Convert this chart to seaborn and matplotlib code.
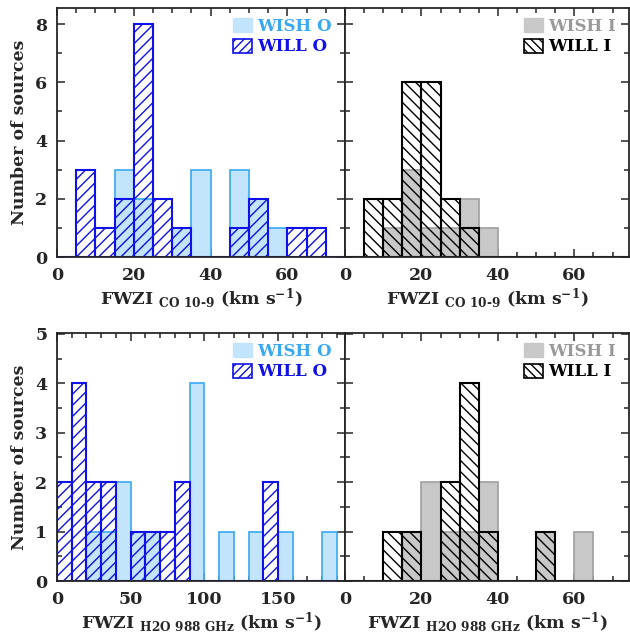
import numpy as np
import pandas as pd
import seaborn as sns
import matplotlib.pyplot as plt
from matplotlib.patches import Patch
from matplotlib.ticker import MultipleLocator

sns.set_style("ticks")
plt.rcParams['font.family'] = ['DejaVu Serif']
plt.rcParams['font.weight'] = 'bold'
plt.rcParams['axes.labelweight'] = 'bold'
plt.rcParams['mathtext.fontset'] = 'custom'
plt.rcParams['mathtext.rm'] = 'DejaVu Serif:bold'
plt.rcParams['mathtext.it'] = 'DejaVu Serif:bold'
plt.rcParams['hatch.linewidth'] = 1.0

# bin left edges (km/s)
co_bins = [0, 5, 10, 15, 20, 25, 30, 35, 40, 45, 50, 55, 60, 65, 70]
h2o_o_bins = [0, 10, 20, 30, 40, 50, 60, 70, 80, 90, 100, 110, 120, 130, 140, 150, 160, 170, 180]
h2o_i_bins = co_bins

# counts per bin
wish_o_co = [0, 0, 0, 3, 2, 0, 1, 3, 0, 3, 2, 1, 0, 0, 0]
will_o_co = [0, 3, 1, 2, 8, 2, 1, 0, 0, 1, 2, 0, 1, 1, 0]
wish_i_co = [0, 0, 1, 3, 1, 1, 2, 1, 0, 0, 0, 0, 0, 0, 0]
will_i_co = [0, 2, 2, 6, 6, 2, 1, 0, 0, 0, 0, 0, 0, 0, 0]

wish_o_h2o = [0, 0, 1, 1, 2, 1, 1, 0, 0, 4, 0, 1, 0, 1, 0, 1, 0, 0, 1]
will_o_h2o = [2, 4, 2, 2, 0, 1, 1, 1, 2, 0, 0, 0, 0, 0, 2, 0, 0, 0, 0]
wish_i_h2o = [0, 0, 0, 1, 2, 1, 1, 2, 0, 0, 1, 0, 1, 0, 0]
will_i_h2o = [0, 0, 1, 1, 0, 2, 4, 1, 0, 0, 1, 0, 0, 0, 0]

BLUE_LT = '#c2e5fb'
BLUE_EDGE = '#38a8f0'
BLUE = '#1010e8'
GREY = '#c8c8c8'
GREY_EDGE = '#a0a0a0'

fig = plt.figure(figsize=(6.3, 6.38), dpi=100)
W, H = 630, 638


def add_ax(x0, y0, x1, y1):
    return fig.add_axes([x0 / W, 1 - y1 / H, (x1 - x0) / W, (y1 - y0) / H])


ax_tl = add_ax(57, 8, 345, 257)
ax_tr = add_ax(345, 8, 629, 257)
ax_bl = add_ax(57, 333, 345, 581)
ax_br = add_ax(345, 333, 629, 581)


def hist(ax, lefts, counts, width, **kw):
    lefts = np.array(lefts, dtype=float)
    df = pd.DataFrame({'v': lefts + width / 2, 'n': counts})
    sns.histplot(data=df, x='v', weights='n', binwidth=width,
                 binrange=(lefts[0], lefts[-1] + width), ax=ax,
                 stat='count', **kw)


def panel(ax, lefts, width, wish, will, kind, xmax, ymax):
    if kind == 'O':
        hist(ax, lefts, wish, width, facecolor=BLUE_LT, edgecolor=BLUE_EDGE,
             linewidth=1.2, alpha=1)
        hist(ax, lefts, will, width, facecolor='none', edgecolor=BLUE,
             linewidth=1.5, hatch='///')
        handles = [Patch(facecolor=BLUE_LT, edgecolor=BLUE_LT),
                   Patch(facecolor='none', edgecolor=BLUE, hatch='////', linewidth=1.2)]
        labels = ['WISH O', 'WILL O']
        lc = [BLUE_EDGE, BLUE]
    else:
        hist(ax, lefts, wish, width, facecolor=GREY, edgecolor=GREY_EDGE,
             linewidth=1.2, alpha=1)
        hist(ax, lefts, will, width, facecolor='none', edgecolor='black',
             linewidth=1.5, hatch='\\\\\\')
        handles = [Patch(facecolor=GREY, edgecolor=GREY),
                   Patch(facecolor='none', edgecolor='black', hatch='\\\\\\\\', linewidth=1.2)]
        labels = ['WISH I', 'WILL I']
        lc = ['#999999', 'black']
    ax.legend(handles, labels, loc='upper right', frameon=False, fontsize=12,
              labelcolor=lc, handlelength=1.1, handleheight=0.9,
              handletextpad=0.35, borderaxespad=0.2, labelspacing=0.2,
              bbox_to_anchor=(0.99, 1.0))
    ax.set_xlim(0, xmax)
    ax.set_ylim(0, ymax)
    ax.set_ylabel('')
    ax.tick_params(which='both', direction='in', top=True, right=True,
                   labelsize=12.5, width=1.1)
    ax.tick_params(which='major', length=6, pad=7)
    ax.tick_params(which='minor', length=3.5)
    for s in ax.spines.values():
        s.set_linewidth(1.3)
        s.set_visible(True)


panel(ax_tl, co_bins, 5, wish_o_co, will_o_co, 'O', 75, 8.55)
panel(ax_tr, co_bins, 5, wish_i_co, will_i_co, 'I', 74.3, 8.55)
panel(ax_bl, h2o_o_bins, 10, wish_o_h2o, will_o_h2o, 'O', 195.5, 5.02)
panel(ax_br, h2o_i_bins, 5, wish_i_h2o, will_i_h2o, 'I', 74.3, 5.02)

for ax in (ax_tl, ax_tr, ax_br):
    ax.xaxis.set_major_locator(MultipleLocator(20))
    ax.xaxis.set_minor_locator(MultipleLocator(5))
ax_bl.xaxis.set_major_locator(MultipleLocator(50))
ax_bl.xaxis.set_minor_locator(MultipleLocator(10))
for ax in (ax_tl, ax_tr):
    ax.yaxis.set_major_locator(MultipleLocator(2))
    ax.yaxis.set_minor_locator(MultipleLocator(1))
for ax in (ax_bl, ax_br):
    ax.yaxis.set_major_locator(MultipleLocator(1))
    ax.yaxis.set_minor_locator(MultipleLocator(0.5))
for ax in (ax_tr, ax_br):
    ax.tick_params(labelleft=False)

co_lab = 'FWZI $_{\\rm CO\\ 10\u20109}$ (km s$^{-1}$)'
h2o_lab = r'FWZI $_{\rm H2O\ 988\ GHz}$ (km s$^{-1}$)'
for ax, lab in ((ax_tl, co_lab), (ax_tr, co_lab), (ax_bl, h2o_lab), (ax_br, h2o_lab)):
    ax.set_xlabel(lab, fontsize=12.5, labelpad=2)
for ax in (ax_tl, ax_bl):
    ax.set_ylabel('Number of sources', fontsize=12.5, labelpad=5)

fig.savefig('out.png', dpi=100)
